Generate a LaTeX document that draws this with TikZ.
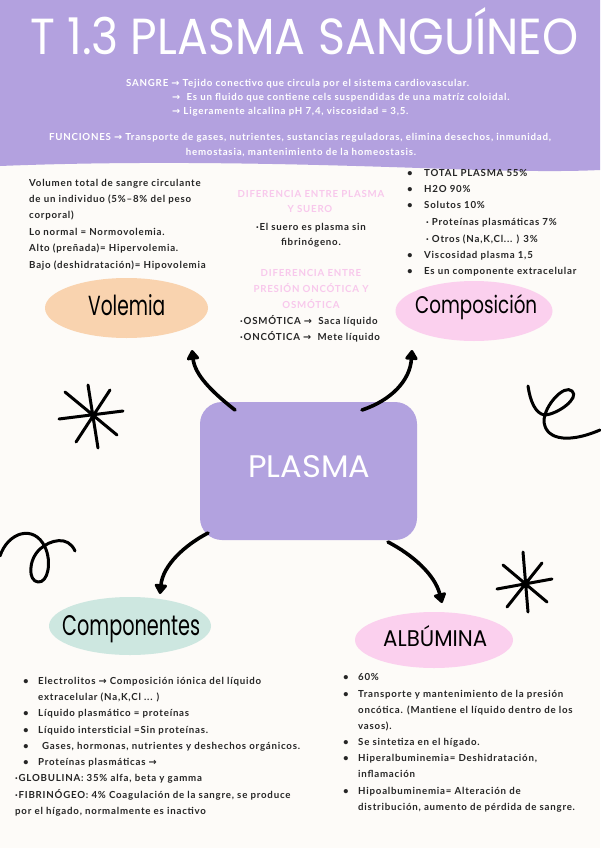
\documentclass[tikz,border=0pt]{standalone}
\usepackage{fontspec}
\usepackage{graphicx}
\usetikzlibrary{arrows.meta,shapes.geometric}
\newfontfamily\bodyf{Lato}[LetterSpace=8]
\newfontfamily\handf{Poppins}
\newfontfamily\symf{DejaVu Sans}
\newcommand\rarr{{\symf\char"2192}}
\definecolor{bgc}{HTML}{FDFBF8}
\definecolor{hdrc}{HTML}{B3A1DF}
\definecolor{plum}{HTML}{B2A2DF}
\definecolor{peach}{HTML}{F9D3AF}
\definecolor{pinkb}{HTML}{FBD0EE}
\definecolor{mint}{HTML}{CDE7E0}
\definecolor{pinkt}{HTML}{F8C8EC}
\definecolor{ink}{HTML}{262626}
\tikzset{
  txt/.style={anchor=base west, inner sep=0pt, text=ink, font=\bodyf\bfseries\fontsize{9.7}{11}\selectfont},
  ctxt/.style={txt, anchor=base},
  hdr/.style={txt, text=white},
  chdr/.style={hdr, anchor=base},
  pinkh/.style={txt, anchor=base, text=pinkt},
  bul/.style={txt, anchor=base},
  lbl/.style={anchor=base west, inner sep=0pt, text=black},
  blob/.style={ellipse, inner sep=0pt},
  conn/.style={line width=3.6pt, line cap=round, -{Triangle[width=14pt,length=11pt,round]}},
  starln/.style={line width=3pt, line cap=round, line join=round},
}
\begin{document}
\begin{tikzpicture}[x=1pt,y=-1pt]
\useasboundingbox (0,0) rectangle (600,848);
\fill[bgc] (0,0) rectangle (600,848);
% header
\fill[hdrc] (0,0) -- (600,0) -- (600,170) .. controls (560,172) and (500,171) .. (420,168) .. controls (300,164) and (150,160) .. (0,166) -- cycle;
\node[anchor=base west, inner sep=0pt, text=white] (title) at (30,55) {\resizebox{548pt}{47pt}{\handf T 1.3 PLASMA SANGUÍNEO}};
\node[hdr] (h1) at (126,87) {SANGRE \rarr\ Tejido conectivo que circula por el sistema cardiovascular.};
\node[hdr] (h2) at (172,101) {\rarr\ \ Es un fluido que contiene cels suspendidas de una matríz coloidal.};
\node[hdr] (h3) at (172,115) {\rarr\ Ligeramente alcalina pH 7,4, viscosidad = 3,5.};
\node[chdr] (h4) at (300,140) {FUNCIONES \rarr\ Transporte de gases, nutrientes, sustancias reguladoras, elimina desechos, inmunidad,};
\node[chdr] (h5) at (301,155) {hemostasia, mantenimiento de la homeostasis.};
% left column
\node[txt] (v1) at (29,186) {Volumen total de sangre circulante};
\node[txt] (v2) at (29,202.4) {de un individuo (5\%–8\% del peso};
\node[txt] (v3) at (29,218.8) {corporal)};
\node[txt] (v4) at (29,235.2) {Lo normal = Normovolemia.};
\node[txt] (v5) at (29,251.6) {Alto (preñada)= Hipervolemia.};
\node[txt] (v6) at (29,268) {Bajo (deshidratación)= Hipovolemia};
% middle column
\node[pinkh] (m1) at (311,197) {DIFERENCIA ENTRE PLASMA};
\node[pinkh] (m2) at (310,212) {Y SUERO};
\node[ctxt] (m3) at (311,230) {·El suero es plasma sin};
\node[ctxt] (m4) at (311,245) {fibrinógeno.};
\node[pinkh] (m5) at (311,276) {DIFERENCIA ENTRE};
\node[pinkh] (m6) at (311,292) {PRESIÓN ONCÓTICA Y};
\node[pinkh] (m7) at (311,308) {OSMÓTICA};
\node[txt] (m8) at (240,324) {·OSMÓTICA \rarr\ \ Saca líquido};
\node[txt] (m9) at (240,340) {·ONCÓTICA \rarr\ \ Mete líquido};
% right column
\foreach \y/\n in {176/1,192/2,208/3,258/6,274/7} {\node[bul] (rb\n) at (410,\y) {•};}
\node[txt] (r1) at (424,176) {TOTAL PLASMA 55\%};
\node[txt] (r2) at (424,192) {H2O 90\%};
\node[txt] (r3) at (424,208) {Solutos 10\%};
\node[txt] (r4) at (426,225) {· Proteínas plasmáticas 7\%};
\node[txt] (r5) at (426,242) {· Otros (Na,K,Cl... ) 3\%};
\node[txt] (r6) at (424,258) {Viscosidad plasma 1,5};
\node[txt] (r7) at (424,274) {Es un componente extracelular};
% blobs
\node[blob, fill=peach, minimum width=163pt, minimum height=60pt] (volemia) at (126.5,308) {};
\node[lbl] (volemiat) at (88,315) {\resizebox{77pt}{21pt}{\handf Volemia}};
\node[blob, fill=pinkb, minimum width=157pt, minimum height=60pt] (compo) at (474,311) {};
\node[lbl] (compot) at (415,313) {\resizebox{122pt}{19pt}{\handf Composición}};
\node[blob, fill=mint, minimum width=162pt, minimum height=58pt] (compon) at (130,626) {};
\node[lbl] (compont) at (62,635) {\resizebox{138pt}{20pt}{\handf Componentes}};
\node[blob, fill=pinkb, minimum width=158pt, minimum height=56pt] (albu) at (434,640) {};
\node[lbl] (albut) at (383,646) {\resizebox{104pt}{21pt}{\handf ALBÚMINA}};
% central box
\node[fill=plum, rounded corners=22pt, minimum width=217pt, minimum height=138pt, inner sep=0pt] (plasma) at (308.5,471) {};
\node[lbl, text=white] (plasmat) at (248,477) {\resizebox{122pt}{22pt}{\handf PLASMA}};
% connectors
\coordinate (a1s) at (235,410); \coordinate (a1e) at (192,350);
\coordinate (a2s) at (362,410); \coordinate (a2e) at (412,350);
\coordinate (a3s) at (208,533); \coordinate (a3e) at (160,594);
\coordinate (a4s) at (388,542); \coordinate (a4e) at (442,603);
\draw[conn] (a1s) .. controls (212,392) and (195,375) .. (a1e);
\draw[conn] (a2s) .. controls (392,400) and (410,380) .. (a2e);
\draw[conn] (a3s) .. controls (185,545) and (163,565) .. (a3e);
\draw[conn] (a4s) .. controls (413,555) and (435,575) .. (a4e);
% decorations
\draw[starln] (88,385) -- (98,448) (59,419) -- (123,411) (65,392) -- (117,435) (110,390) -- (76,442);
\draw[starln] (523,552) -- (528,612) (497,589) -- (552,579) (503,565) -- (547,602) (542,563) -- (507,607);
\draw[starln] (0,556) .. controls (8,532) and (34,524) .. (45,547) .. controls (52,562) and (48,583) .. (38,582) .. controls (28,581) and (28,560) .. (40,549) .. controls (50,540) and (68,535) .. (75,551);
\draw[starln] (528,386) .. controls (530,400) and (535,414) .. (545,415) .. controls (558,414) and (580,398) .. (572,391) .. controls (564,384) and (545,405) .. (544,420) .. controls (544,438) and (565,445) .. (600,430);
% componentes list
\foreach \y/\n in {684/1,716/3,733/4,749/5,765/6} {\node[bul] (cb\n) at (26,\y) {•};}
\node[txt] (c1) at (38,684) {Electrolitos \rarr\ Composición iónica del líquido};
\node[txt] (c2) at (38,700) {extracelular (Na,K,Cl ... )};
\node[txt] (c3) at (38,716) {Líquido plasmático = proteínas};
\node[txt] (c4) at (38,733) {Líquido intersticial =Sin proteínas.};
\node[txt] (c5) at (42,749) {Gases, hormonas, nutrientes y deshechos orgánicos.};
\node[txt] (c6) at (38,765) {Proteínas plasmáticas \rarr};
\node[txt] (c7) at (15,781) {·GLOBULINA: 35\% alfa, beta y gamma};
\node[txt] (c8) at (15,798) {·FIBRINÓGEO: 4\% Coagulación de la sangre, se produce};
\node[txt] (c9) at (15,814) {por el hígado, normalmente es inactivo};
% albumina list
\foreach \y/\n in {680/1,697/2,745/5,761/6,794/8} {\node[bul] (ab\n) at (346,\y) {•};}
\node[txt] (al1) at (358,680) {60\%};
\node[txt] (al2) at (358,697) {Transporte y mantenimiento de la presión};
\node[txt] (al3) at (358,713) {oncótica. (Mantiene el líquido dentro de los};
\node[txt] (al4) at (358,729) {vasos).};
\node[txt] (al5) at (358,745) {Se sintetiza en el hígado.};
\node[txt] (al6) at (358,761) {Hiperalbuminemia= Deshidratación,};
\node[txt] (al7) at (358,777) {inflamación};
\node[txt] (al8) at (358,794) {Hipoalbuminemia= Alteración de};
\node[txt] (al9) at (358,810) {distribución, aumento de pérdida de sangre.};
\end{tikzpicture}
\end{document}
